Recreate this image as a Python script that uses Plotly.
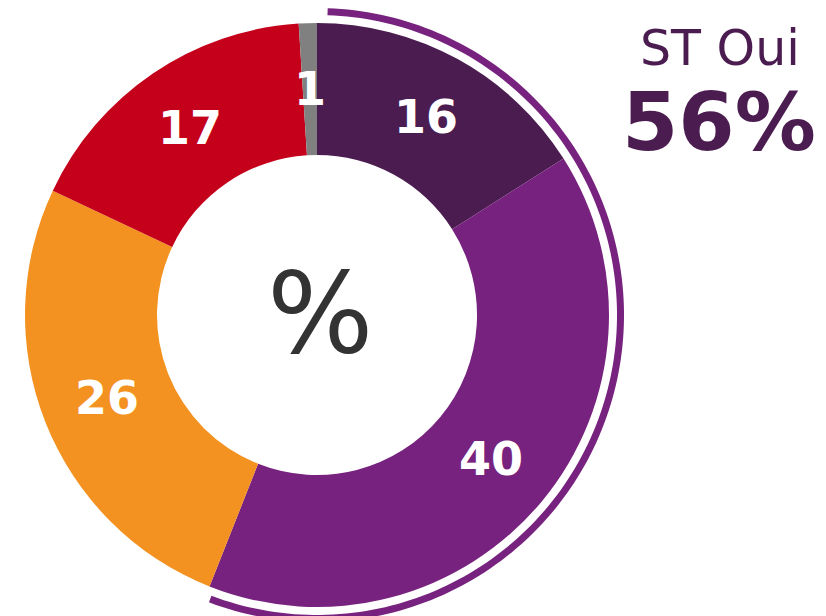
import numpy as np
import plotly.graph_objects as go

# ---- data ----
categories = ["Tout à fait", "Plutôt oui", "Plutôt non", "Pas du tout", "NSP"]
values = [16, 40, 26, 17, 1]
colors = ["#4B1C50", "#77227E", "#F39220", "#C4001A", "#808080"]
summary_label = "ST Oui"
summary_value = values[0] + values[1]   # 56
center_text = "%"

W, H = 826, 616
CX, CY = 317, 315          # donut centre (px)
R_OUT, R_IN = 292, 160     # donut radii (px)
RING_IN, RING_OUT = 300, 307

fig = go.Figure()

# main donut
fig.add_trace(go.Pie(
    labels=categories, values=values, sort=False, direction="clockwise",
    rotation=0, hole=R_IN / R_OUT, textinfo="none", hoverinfo="label+value",
    marker=dict(colors=colors, line=dict(width=0)),
    domain=dict(x=[(CX - R_OUT) / W, (CX + R_OUT) / W],
                y=[(H - CY - R_OUT) / H, (H - CY + R_OUT) / H]),
    showlegend=False,
))

# outer highlight ring for the "ST Oui" share
total = sum(values)
a0 = np.deg2rad(2.0)
a1 = np.deg2rad(summary_value / total * 360 - 1.0)
t = np.linspace(a0, a1, 160)
xo = CX + RING_OUT * np.sin(t); yo = CY - RING_OUT * np.cos(t)
xi = CX + RING_IN * np.sin(t[::-1]); yi = CY - RING_IN * np.cos(t[::-1])
pts = list(zip(np.concatenate([xo, xi]), np.concatenate([yo, yi])))
path = "M " + " L ".join(f"{x:.2f},{y:.2f}" for x, y in pts) + " Z"
fig.add_shape(type="path", path=path, xref="x", yref="y",
              fillcolor="#77227E", line=dict(width=0), layer="above")

# slice value labels at mid-angle, mid-radius
cum = np.cumsum([0] + values)
r_mid = (R_OUT + R_IN) / 2
for i, v in enumerate(values):
    ang = np.deg2rad((cum[i] + v / 2) / total * 360)
    fig.add_annotation(x=CX + r_mid * np.sin(ang), y=CY - r_mid * np.cos(ang),
                       xref="x", yref="y", text=f"<b>{v}</b>", showarrow=False,
                       font=dict(family="DejaVu Sans", size=46, color="white"))

# centre text
fig.add_annotation(x=CX + 3, y=CY - 2, xref="x", yref="y", text=center_text,
                   showarrow=False,
                   font=dict(family="DejaVu Sans", size=112, color="#333333"))

# summary text
fig.add_annotation(x=720, y=48, xref="x", yref="y", text=summary_label,
                   showarrow=False,
                   font=dict(family="DejaVu Sans", size=49, color="#4B1C50"))
fig.add_annotation(x=719, y=122, xref="x", yref="y",
                   text=f"<b>{summary_value}%</b>", showarrow=False,
                   font=dict(family="DejaVu Sans", size=81, color="#4B1C50"))

fig.update_layout(
    width=W, height=H, margin=dict(l=0, r=0, t=0, b=0),
    paper_bgcolor="white", plot_bgcolor="rgba(0,0,0,0)",
    xaxis=dict(range=[0, W], visible=False, fixedrange=True),
    yaxis=dict(range=[H, 0], visible=False, fixedrange=True),
    showlegend=False,
)

fig.write_html("out.html", config={"displayModeBar": False},
               post_script="document.body.style.margin='0';"
                           "document.body.style.padding='0';"
                           "document.body.style.overflow='hidden';")
